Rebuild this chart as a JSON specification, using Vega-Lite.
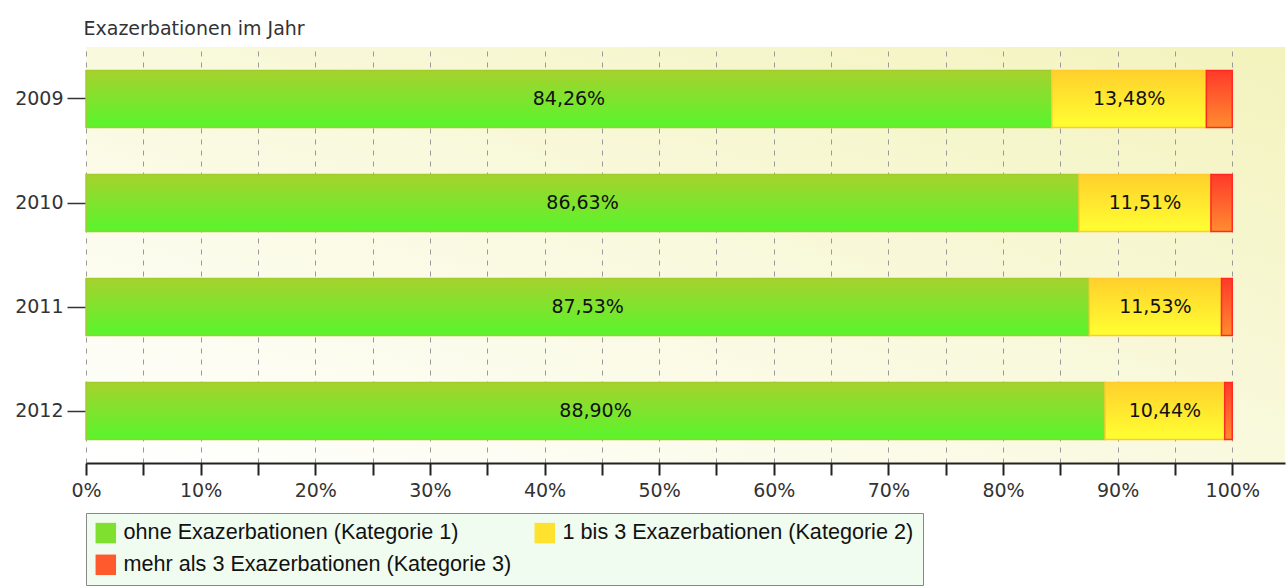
{
  "$schema": "https://vega.github.io/schema/vega-lite/v6.json",
  "width": 1199,
  "height": 416,
  "autosize": "none",
  "padding": {"left": 86, "top": 47, "right": 2, "bottom": 124},
  "background": "white",
  "config": {
    "locale": {"number": {"decimal": ",", "thousands": ".", "grouping": [3], "currency": ["", " €"]}},
    "view": {"stroke": null, "fill": {"gradient": "linear", "x1": 0, "y1": 1, "x2": 1, "y2": 0, "stops": [{"offset": 0, "color": "#ffffff"}, {"offset": 1, "color": "#f3f3bd"}]}},
    "font": "DejaVu Sans",
    "axisX": {
      "title": null,
      "values": [0, 0.05, 0.1, 0.15, 0.2, 0.25, 0.3, 0.35, 0.4, 0.45, 0.5, 0.55, 0.6, 0.65, 0.7, 0.75, 0.8, 0.85, 0.9, 0.95, 1],
      "format": ".0%",
      "labelExpr": "round(datum.value*100) % 10 === 0 ? datum.label : ''",
      "grid": true, "gridDash": [5, 6], "gridColor": "#9a9a9a", "gridWidth": 1,
      "tickSize": 12, "tickColor": "#222", "tickWidth": 2,
      "domainColor": "#222", "domainWidth": 2,
      "labelFont": "DejaVu Sans", "labelFontSize": 19, "labelColor": "#333", "labelPadding": 6,
      "labelFlush": false, "labelOverlap": false
    }
  },
  "data": {
    "values": [
      {"year": "2009", "k": 1, "cat": "ohne Exazerbationen (Kategorie 1)", "value": 0.8426},
      {"year": "2009", "k": 2, "cat": "1 bis 3 Exazerbationen (Kategorie 2)", "value": 0.1348},
      {"year": "2009", "k": 3, "cat": "mehr als 3 Exazerbationen (Kategorie 3)", "value": 0.0226},
      {"year": "2010", "k": 1, "cat": "ohne Exazerbationen (Kategorie 1)", "value": 0.8663},
      {"year": "2010", "k": 2, "cat": "1 bis 3 Exazerbationen (Kategorie 2)", "value": 0.1151},
      {"year": "2010", "k": 3, "cat": "mehr als 3 Exazerbationen (Kategorie 3)", "value": 0.0186},
      {"year": "2011", "k": 1, "cat": "ohne Exazerbationen (Kategorie 1)", "value": 0.8753},
      {"year": "2011", "k": 2, "cat": "1 bis 3 Exazerbationen (Kategorie 2)", "value": 0.1153},
      {"year": "2011", "k": 3, "cat": "mehr als 3 Exazerbationen (Kategorie 3)", "value": 0.0094},
      {"year": "2012", "k": 1, "cat": "ohne Exazerbationen (Kategorie 1)", "value": 0.889},
      {"year": "2012", "k": 2, "cat": "1 bis 3 Exazerbationen (Kategorie 2)", "value": 0.1044},
      {"year": "2012", "k": 3, "cat": "mehr als 3 Exazerbationen (Kategorie 3)", "value": 0.0066}
    ]
  },
  "encoding": {
    "y": {
      "field": "year", "type": "nominal",
      "scale": {"paddingInner": 0.452, "paddingOuter": 0.226},
      "axis": {
        "title": "Exazerbationen im Jahr", "titleAngle": 0, "titleAlign": "left", "titleBaseline": "middle",
        "titleX": -3, "titleY": -19, "titleFont": "DejaVu Sans", "titleFontSize": 19, "titleFontWeight": "normal", "titleColor": "#333",
        "labelFont": "DejaVu Sans", "labelFontSize": 19, "labelColor": "#333", "labelPadding": 4,
        "tickSize": 19, "tickColor": "#333", "tickWidth": 1.5, "domain": false, "grid": false
      }
    }
  },
  "layer": [
    {
      "transform": [
        {"stack": "value", "groupby": ["year"], "sort": [{"field": "k", "order": "ascending"}], "as": ["x0", "x1"]}
      ],
      "encoding": {
        "x": {
          "field": "x0", "type": "quantitative",
          "scale": {"domain": [0, 1.046], "nice": false},
          "axis": {"title": null}
        },
        "x2": {"field": "x1"}
      },
      "layer": [
        {
          "mark": {"type": "bar"},
          "encoding": {
            "color": {
              "field": "cat", "type": "nominal",
              "scale": {
                "domain": ["ohne Exazerbationen (Kategorie 1)", "1 bis 3 Exazerbationen (Kategorie 2)", "mehr als 3 Exazerbationen (Kategorie 3)"],
                "range": ["#80e030", "#ffe22e", "#ff5a2e"]
              },
              "legend": {
                "title": null, "orient": "none", "legendX": 0, "legendY": 466, "columns": 2, "direction": "horizontal",
                "fillColor": "#effcef", "strokeColor": "#888", "padding": 9,
                "labelFont": "Liberation Sans", "labelFontSize": 21.6, "labelColor": "#111", "labelLimit": 600,
                "symbolType": "square", "symbolSize": 420, "symbolStrokeWidth": 0, "symbolOpacity": 1,
                "labelOffset": 7, "rowPadding": 9, "columnPadding": 22
              }
            }
          }
        },
        {
          "mark": {"type": "bar", "strokeWidth": 1.5},
          "encoding": {
            "fill": {
              "condition": [
                {"test": "datum.k === 1", "value": {"gradient": "linear", "x1": 0, "y1": 0, "x2": 0, "y2": 1, "stops": [{"offset": 0, "color": "#a6d22e"}, {"offset": 1, "color": "#58f52c"}]}},
                {"test": "datum.k === 2", "value": {"gradient": "linear", "x1": 0, "y1": 0, "x2": 0, "y2": 1, "stops": [{"offset": 0, "color": "#ffd02c"}, {"offset": 1, "color": "#ffff32"}]}}
              ],
              "value": {"gradient": "linear", "x1": 0, "y1": 0, "x2": 0, "y2": 1, "stops": [{"offset": 0, "color": "#ff3a2a"}, {"offset": 1, "color": "#ff8c30"}]}
            },
            "stroke": {
              "condition": [
                {"test": "datum.k === 1", "value": "#a2cc2c"},
                {"test": "datum.k === 2", "value": "#ffcc30"}
              ],
              "value": "#ff2a22"
            }
          }
        }
      ]
    },
    {
      "transform": [{"filter": "datum.k < 3"}],
      "mark": {"type": "text", "font": "DejaVu Sans", "fontSize": 19, "color": "#111", "align": "center", "baseline": "middle"},
      "encoding": {
        "x": {"field": "value", "type": "quantitative", "stack": "zero", "bandPosition": 0.5, "axis": {"title": null}},
        "order": {"field": "k", "type": "quantitative"},
        "text": {"field": "value", "type": "quantitative", "format": ".2%"}
      }
    }
  ]
}
